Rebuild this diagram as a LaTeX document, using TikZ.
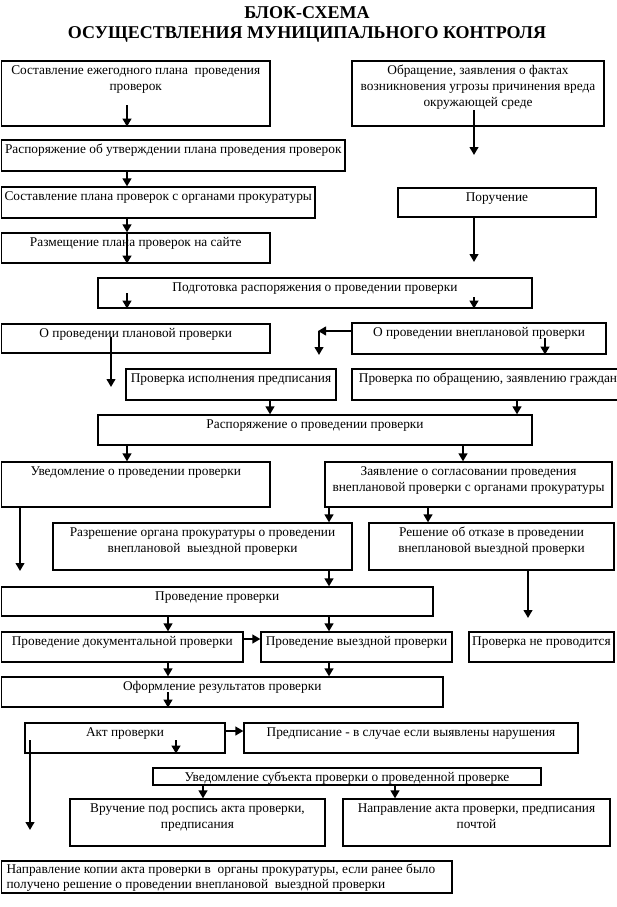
\documentclass[tikz,border=0pt]{standalone}
\usepackage{fontspec}
\setmainfont{Liberation Serif}
\usetikzlibrary{arrows.meta,positioning,fit}

\begin{document}
\begin{tikzpicture}[x=0.75pt, y=-0.75pt, >={Triangle[width=6.5pt,length=6pt]},
    font=\fontsize{10}{12}\selectfont,
    blk/.style={draw=black, line width=0.9pt, inner sep=0pt},
    txt/.style={align=center, inner sep=0pt},
    arr/.style={->, line width=1.7pt}]

    \useasboundingbox (0,0) rectangle (617,907);

    % Title
    \node[font=\bfseries\fontsize{13.5}{14.5}\selectfont, align=center, inner sep=0pt, anchor=north]
        (title) at (307,6.5) {БЛОК-СХЕМА\\ОСУЩЕСТВЛЕНИЯ МУНИЦИПАЛЬНОГО КОНТРОЛЯ};

    % === COLUMNS OF THE ARROWS ===
    \coordinate (xa) at (127,0);
    \coordinate (xb) at (474,0);
    \coordinate (xj) at (270,0);
    \coordinate (xk) at (517,0);
    \coordinate (xn) at (463,0);
    \coordinate (xo) at (329,0);
    \coordinate (xp) at (428,0);
    \coordinate (xd) at (168,0);
    \coordinate (xy) at (203,0);
    \coordinate (xz) at (395,0);

    % === PLAN OF INSPECTIONS (left) ===
    \node[blk, fit={(1.5,61) (270,126)}] (yearplan) {};
    \node[txt, below=3.5pt of yearplan.north] (yearplan-t) {Составление ежегодного плана \ проведения\\проверок};

    \node[blk, fit={(1.5,140) (345,171)}] (orderplan) {};
    \node[txt, below=3.5pt of orderplan.north] (orderplan-t) {Распоряжение об утверждении плана проведения проверок};

    \node[blk, fit={(1.5,187) (315,218)}] (agreeplan) {};
    \node[txt, below=3.5pt of agreeplan.north] (agreeplan-t) {Составление плана проверок с органами прокуратуры};

    \node[blk, fit={(1.5,233) (270,263)}] (website) {};
    \node[txt, below=3.5pt of website.north] (website-t) {Размещение плана проверок на сайте};

    % === APPEALS (right) ===
    \node[blk, fit={(352,61) (604,126)}] (appeal) {};
    \node[txt, below=3.5pt of appeal.north] (appeal-t) {Обращение, заявления о фактах\\возникновения угрозы причинения вреда\\окружающей среде};

    \node[blk, fit={(398,188) (596,217)}] (assign) {};
    \node[txt, below=3.5pt of assign.north] (assign-t) {Поручение};

    % === ORDER ===
    \node[blk, fit={(98,278) (532,308)}] (prepare) {};
    \node[txt, below=3.5pt of prepare.north] (prepare-t) {Подготовка распоряжения о проведении проверки};

    \node[blk, fit={(1.5,324) (270,353)}] (planned) {};
    \node[txt, below=3.5pt of planned.north] (planned-t) {О проведении плановой проверки};

    \node[blk, fit={(352,323) (606,354)}] (unplanned) {};
    \node[txt, below=3.5pt of unplanned.north] (unplanned-t) {О проведении внеплановой проверки};

    \node[blk, fit={(126,369) (336,400)}] (execcheck) {};
    \node[txt, below=3.5pt of execcheck.north] (execcheck-t) {Проверка исполнения предписания};

    \node[blk, fit={(352,369) (624,400)}] (citizencheck) {};
    \node[txt, below=3.5pt of citizencheck.north] (citizencheck-t) {Проверка по обращению, заявлению граждан};

    \node[blk, fit={(98,415) (532,445)}] (order) {};
    \node[txt, below=3.5pt of order.north] (order-t) {Распоряжение о проведении проверки};

    \node[blk, fit={(1.5,462) (270,507)}] (notice) {};
    \node[txt, below=3.5pt of notice.north] (notice-t) {Уведомление о проведении проверки};

    \node[blk, fit={(325,462) (612,507)}] (request) {};
    \node[txt, below=3.5pt of request.north] (request-t) {Заявление о согласовании проведения\\внеплановой проверки с органами прокуратуры};

    \node[blk, fit={(53,523) (352,570)}] (permit) {};
    \node[txt, below=3.5pt of permit.north] (permit-t) {Разрешение органа прокуратуры о проведении\\внеплановой \ выездной проверки};

    \node[blk, fit={(369,523) (614,570)}] (refusal) {};
    \node[txt, below=3.5pt of refusal.north] (refusal-t) {Решение об отказе в проведении\\внеплановой выездной проверки};

    % === INSPECTION ===
    \node[blk, fit={(1.5,587) (433,616)}] (conduct) {};
    \node[txt, below=3.5pt of conduct.north] (conduct-t) {Проведение проверки};

    \node[blk, fit={(1.5,632) (243,662)}] (docs) {};
    \node[txt, below=3.5pt of docs.north] (docs-t) {Проведение документальной проверки};

    \node[blk, fit={(261,632) (452,662)}] (onsite) {};
    \node[txt, below=3.5pt of onsite.north] (onsite-t) {Проведение выездной проверки};

    \node[blk, fit={(469,632) (614,662)}] (nocheck) {};
    \node[txt, below=3.5pt of nocheck.north] (nocheck-t) {Проверка не проводится};

    \node[blk, fit={(1.5,677) (443,707)}] (results) {};
    \node[txt, below=3.5pt of results.north] (results-t) {Оформление результатов проверки};

    % === RESULTS ===
    \node[blk, fit={(25,723) (225,753)}] (act) {};
    \node[txt, below=3.5pt of act.north] (act-t) {Акт проверки};

    \node[blk, fit={(244,723) (578,753)}] (prescr) {};
    \node[txt, below=3.5pt of prescr.north] (prescr-t) {Предписание - в случае если выявлены нарушения};

    \node[blk, fit={(153,768) (541,785)}] (notify) {};
    \node[txt, below=3.5pt of notify.north] (notify-t) {Уведомление субъекта проверки о проведенной проверке};

    \node[blk, fit={(70,799) (325,846)}] (handover) {};
    \node[txt, below=3.5pt of handover.north] (handover-t) {Вручение под роспись акта проверки,\\предписания};

    \node[blk, fit={(343,799) (610,846)}] (mail) {};
    \node[txt, below=3.5pt of mail.north] (mail-t) {Направление акта проверки, предписания\\почтой};

    \node[blk, fit={(1.5,861) (452,893)}] (copy) {};
    \node[txt, align=left, anchor=north west, font=\fontsize{10}{11}\selectfont] (copy-t)
        at ([xshift=4pt,yshift=-2.5pt]copy.north west)
        {Направление копии акта проверки в \ органы прокуратуры, если ранее было\\получено решение о проведении внеплановой \ выездной проверки};

    % === ARROWS ===
    \coordinate (yearplan-in) at (127,105);
    \draw[arr] (yearplan-in) -- (yearplan-in |- yearplan.south);
    \coordinate (appeal-in) at (474,110);
    \coordinate (appeal-out) at (474,155);
    \draw[arr] (appeal-in) -- (appeal-out);

    \draw[arr] (orderplan.south -| xa) -- (agreeplan.north -| xa);
    \draw[arr] (agreeplan.south -| xa) -- (website.north -| xa);
    \draw[arr] (website.north -| xa) -- (website.south -| xa);
    \coordinate (assign-out) at (474,262);
    \draw[arr] (assign.south -| xb) -- (assign-out);

    \coordinate (prepare-l) at (127,293);
    \coordinate (prepare-r) at (474,297);
    \draw[arr] (prepare-l) -- (prepare-l |- prepare.south);
    \draw[arr] (prepare-r) -- (prepare-r |- prepare.south);

    \coordinate (planned-in) at (111,337);
    \coordinate (planned-out) at (111,387);
    \draw[arr] (planned-in) -- (planned-out);
    \coordinate (unplanned-l) at (318,331);
    \coordinate (unplanned-d) at (319,355);
    \draw[arr] (unplanned.west |- unplanned-l) -- (unplanned-l);
    \draw[arr] (unplanned-d |- unplanned-l) -- (unplanned-d);
    \coordinate (unplanned-in) at (545,338);
    \draw[arr] (unplanned-in) -- (unplanned-in |- unplanned.south);

    \draw[arr] (execcheck.south -| xj) -- (order.north -| xj);
    \draw[arr] (citizencheck.south -| xk) -- (order.north -| xk);
    \draw[arr] (order.south -| xa) -- (notice.north -| xa);
    \draw[arr] (order.south -| xn) -- (request.north -| xn);

    \coordinate (notice-out) at (20,571);
    \draw[arr] (notice.south -| notice-out) -- (notice-out);
    \draw[arr] (request.south -| xo) -- (permit.north -| xo);
    \draw[arr] (request.south -| xp) -- (refusal.north -| xp);
    \draw[arr] (permit.south -| xo) -- (conduct.north -| xo);
    \coordinate (refusal-out) at (528,618);
    \draw[arr] (refusal.south -| refusal-out) -- (refusal-out);

    \draw[arr] (conduct.south -| xd) -- (docs.north -| xd);
    \draw[arr] (conduct.south -| xo) -- (onsite.north -| xo);
    \coordinate (docs-r) at (0,639);
    \draw[arr] (docs.east |- docs-r) -- (onsite.west |- docs-r);
    \draw[arr] (docs.south -| xd) -- (results.north -| xd);
    \draw[arr] (onsite.south -| xo) -- (results.north -| xo);
    \coordinate (results-in) at (168,692);
    \draw[arr] (results-in) -- (results-in |- results.south);

    \coordinate (act-r) at (0,731);
    \draw[arr] (act.east |- act-r) -- (prescr.west |- act-r);
    \coordinate (act-in) at (176,740);
    \draw[arr] (act-in) -- (act-in |- act.south);
    \coordinate (act-l) at (30,740);
    \coordinate (act-out) at (30,830);
    \draw[arr] (act-l) -- (act-out);

    \draw[arr] (notify.south -| xy) -- (handover.north -| xy);
    \draw[arr] (notify.south -| xz) -- (mail.north -| xz);

\end{tikzpicture}
\end{document}
